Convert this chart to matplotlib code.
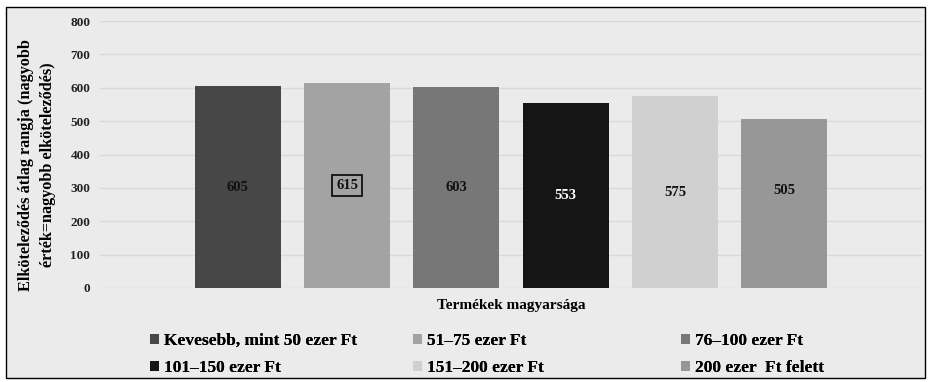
import matplotlib
matplotlib.use("Agg")
from matplotlib import pyplot as plt
from matplotlib.patches import Rectangle, Patch

# Chart data
seriesNames = ["Kevesebb, mint 50 ezer Ft", "51–75 ezer Ft", "76–100 ezer Ft",
               "101–150 ezer Ft", "151–200 ezer Ft", "200 ezer  Ft felett"]
seriesValues = [605, 615, 603, 553, 575, 505]
seriesColors = ["#474747", "#a3a3a3", "#777777", "#151515", "#d0d0d0", "#979797"]
labelColors = ["#111111", "#111111", "#111111", "#ffffff", "#111111", "#111111"]
yTicks = [0, 100, 200, 300, 400, 500, 600, 700, 800]
xTitle = "Termékek magyarsága"
yTitle = "Elköteleződés átlag rangja (nagyobb\nérték=nagyobb elköteleződés)"

# Where the value label sits, as a share of the bar height
labelHeight = [0.5, 0.5, 0.5, 0.5, 0.5, 0.58]

plt.rcParams['font.family'] = ['Liberation Serif', 'DejaVu Serif']
plt.rcParams['font.weight'] = 'bold'

fig = plt.figure(figsize=(9.29, 3.82), dpi=100)
fig.patch.set_facecolor("white")

# Grey panel with black frame round the whole chart
fig.patches.append(Rectangle((6 / 929, 4 / 382), 919 / 929, 371 / 382,
                             transform=fig.transFigure, facecolor="#ebebeb",
                             edgecolor="black", linewidth=1.0, zorder=-5))

ax = fig.add_axes([100 / 929, 94 / 382, 822 / 929, 267 / 382])
ax.set_facecolor("none")

# Draw bars, one per series
positions = list(range(len(seriesValues)))
bars = ax.bar(positions, seriesValues, width=0.786, color=seriesColors,
              zorder=3)

# Value labels inside each bar, the second one boxed
for i, bar in enumerate(bars):
    boxStyle = None
    if i == 1:
        boxStyle = dict(boxstyle="square,pad=0.25", facecolor="none",
                        edgecolor="#111111", linewidth=1.3)
    ax.text(bar.get_x() + bar.get_width() / 2,
            seriesValues[i] * labelHeight[i],
            str(seriesValues[i]), ha="center", va="center", fontsize=10.5,
            fontweight="bold", color=labelColors[i], bbox=boxStyle, zorder=4)

ax.set_xlim(-1.26, 6.26)
ax.set_ylim(0, 800)
ax.set_yticks(yTicks)
ax.set_yticklabels([str(t) for t in yTicks], fontsize=9.5, fontweight="bold",
                   color="#222222")
ax.set_xticks([])
ax.tick_params(axis="y", length=0, pad=7)
for side in ["top", "right", "left", "bottom"]:
    ax.spines[side].set_visible(False)
ax.grid(axis="y", color="#d9d9d9", linewidth=1.0, zorder=0)
ax.set_axisbelow(True)

ax.set_xlabel(xTitle, fontsize=11, fontweight="bold", labelpad=8)
fig.text(37 / 929, 217 / 382, yTitle, rotation=90, ha="center", va="center",
         fontsize=11.7, fontweight="bold", linespacing=1.5)

# Legend: three columns placed by hand, two entries each
columnX = [150 / 929, 413 / 929, 681 / 929]
for col in range(3):
    handles = []
    for row in range(2):
        idx = row * 3 + col
        handles.append(Patch(facecolor=seriesColors[idx],
                             label=seriesNames[idx]))
    leg = fig.legend(handles=handles, loc="upper left",
                     bbox_to_anchor=(columnX[col], 49 / 382),
                     frameon=False, fontsize=12.5, handlelength=0.5,
                     handleheight=0.5, handletextpad=0.3,
                     labelspacing=0.65, borderaxespad=0, borderpad=0)
    fig.add_artist(leg)

fig.savefig("out.png", dpi=100)
